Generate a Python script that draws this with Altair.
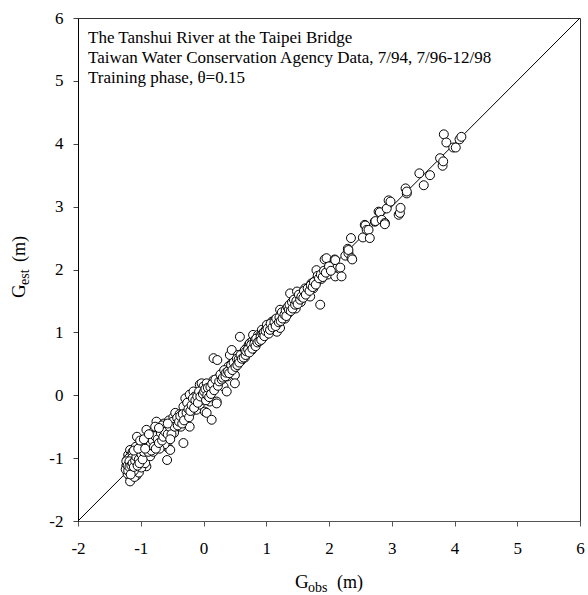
import altair as alt
import pandas as pd

# ---------------- data ----------------
# individually visible points
g_obs = [
    -1.22, -1.20, -1.18, -1.17, -1.17, -1.15, -1.14, -1.13, -1.12, -1.12,
    -1.10, -1.09, -1.08, -1.07, -1.06, -1.05, -1.04, -1.02, -1.01, -1.00,
    -0.98, -0.97, -0.96, -0.96, -0.94, -0.92, -0.91, -0.90, -1.20, -1.17,
    -1.22, -1.06, -1.15, -1.19, -1.23, -1.21, -1.16, -1.10, -1.03, -0.99,
    -0.93, -1.13, -1.08, -1.00, -1.24, -1.19, -1.14, -1.11,
    -0.91, -0.88, -0.85, -0.85, -0.82, -0.80, -0.78, -0.75, -0.74, -0.72,
    -0.70, -0.69, -0.67, -0.65, -0.63, -0.60, -0.59, -0.59, -0.58, -0.56,
    -0.55, -0.53, -0.52, -0.50, -0.48, -0.45, -0.44, -0.43, -0.40, -0.38,
    -0.36, -0.35, -0.32, -0.32, -0.30, -0.29, -0.28, -0.25, -0.22, -0.22,
    -0.22, -0.20, -0.18, -0.16, -0.16, -0.14, -0.12, -0.11, -0.11, -0.08,
    -0.06, -0.06, -0.06, -0.04, -0.03, -0.02, -0.32, -0.26, -0.62, -0.80,
    -0.70, -0.47, -0.66,
    0.00, 0.02, 0.02, 0.02, 0.05, 0.05, 0.08, 0.10, 0.10, 0.13,
    0.15, 0.16, 0.16, 0.18, 0.20, 0.21, 0.21, 0.21, 0.22, 0.24,
    0.26, 0.28, 0.30, 0.32, 0.32, 0.34, 0.37, 0.37, 0.38, 0.40,
    0.42, 0.43, 0.45, 0.45, 0.47, 0.50, 0.50, 0.50, 0.52, 0.55,
    0.55, 0.58, 0.58, 0.60, 0.62, 0.63, 0.65, 0.66, 0.69, 0.70,
    0.72, 0.74, 0.75, 0.77, 0.78, 0.79, 0.80, 0.82, 0.85, 0.87,
    0.88, 0.90, 0.93, 0.95, 0.98, 1.00,
    1.01, 1.03, 1.05, 1.08, 1.09, 1.11, 1.12, 1.14, 1.17, 1.18,
    1.19, 1.22, 1.22, 1.24, 1.27, 1.28, 1.30, 1.33, 1.35, 1.38,
    1.40, 1.43, 1.45, 1.47, 1.49, 1.51, 1.53, 1.55, 1.58, 1.62,
    1.65, 1.68, 1.70, 1.72, 1.75, 1.78, 1.80, 1.83, 1.85, 1.86,
    1.88, 1.93, 1.96, 1.96, 1.98, 2.07,
    2.09, 2.10, 2.10, 2.18, 2.20, 2.26, 2.30, 2.31, 2.31, 2.35,
    2.36, 2.37, 2.54, 2.57, 2.58, 2.60, 2.63, 2.65, 2.73, 2.74,
    2.79, 2.81, 2.84, 2.89, 2.89, 2.92, 2.95, 2.98, 3.11, 3.13,
    3.14, 3.22, 3.24, 3.24, 3.44, 3.51, 3.61, 3.77, 3.81, 3.82,
    3.83, 3.87, 3.98, 4.02, 4.08, 4.11,
]
g_est = [
    -1.08, -1.15, -1.22, -1.30, -1.37, -1.05, -1.12, -1.20, -1.25, -0.98,
    -1.02, -1.16, -1.10, -1.28, -0.92, -1.05, -1.18, -0.95, -1.11, -1.00,
    -1.06, -0.88, -0.97, -0.76, -1.02, -0.92, -1.13, -0.84, -0.95, -0.87,
    -1.03, -0.66, -0.95, -1.00, -1.12, -1.25, -1.18, -1.30, -1.23, -1.15,
    -1.08, -0.90, -0.82, -0.80, -1.18, -1.10, -1.00, -1.20,
    -0.55, -0.72, -0.82, -0.97, -0.60, -0.66, -0.75, -0.42, -0.55, -0.60,
    -0.68, -0.79, -0.50, -0.62, -0.45, -0.70, -0.52, -0.71, -1.03, -0.84,
    -0.40, -0.87, -0.55, -0.48, -0.35, -0.28, -0.52, -0.44, -0.40, -0.30,
    -0.50, -0.38, -0.28, -0.76, -0.35, -0.05, -0.22, -0.30, -0.20, -0.50,
    0.01, -0.12, -0.25, -0.10, 0.06, -0.02, -0.15, -0.18, -0.23, -0.05,
    -0.15, 0.01, 0.17, -0.08, 0.19, 0.05, -0.18, -0.12, -0.78, -0.90,
    -0.85, -0.60, -0.48,
    0.14, -0.05, -0.02, -0.26, 0.19, -0.28, 0.03, 0.06, -0.10, -0.39,
    0.10, 0.24, 0.59, 0.14, 0.20, -0.10, 0.17, -0.13, 0.56, 0.27,
    0.30, 0.22, 0.35, 0.32, 0.14, 0.38, 0.40, 0.06, 0.30, 0.46,
    0.64, 0.42, 0.72, 0.50, 0.44, 0.51, 0.32, 0.19, 0.55, 0.64,
    0.50, 0.93, 0.60, 0.55, 0.62, 0.67, 0.70, 0.60, 0.75, 0.68,
    0.80, 0.83, 0.72, 0.72, 0.86, 0.96, 0.78, 0.88, 0.85, 0.96,
    0.90, 0.95, 1.04, 0.92, 0.99, 1.05,
    1.12, 1.00, 1.08, 1.12, 1.17, 1.12, 1.05, 1.20, 1.01, 1.15,
    1.23, 1.07, 1.36, 1.25, 1.25, 1.30, 1.22, 1.38, 1.30, 1.62,
    1.42, 1.44, 1.50, 1.38, 1.65, 1.52, 1.58, 1.48, 1.62, 1.70,
    1.62, 1.72, 1.57, 1.78, 1.70, 1.82, 1.99, 1.83, 1.90, 1.44,
    1.85, 2.16, 2.18, 1.99, 1.92, 2.02,
    2.16, 2.15, 1.89, 2.03, 1.89, 2.22, 2.33, 2.26, 2.31, 2.50,
    2.18, 2.16, 2.51, 2.71, 2.70, 2.63, 2.63, 2.50, 2.76, 2.77,
    2.92, 2.91, 2.79, 2.74, 2.72, 2.97, 3.10, 3.08, 2.87, 2.90,
    2.98, 3.29, 3.21, 3.24, 3.53, 3.34, 3.50, 3.77, 3.65, 3.72,
    4.15, 4.02, 3.94, 3.94, 4.07, 4.11,
]
# points hidden inside the dense band
band_obs = [
    -1.23, -1.21, -1.20, -1.18, -1.18, -1.16, -1.15, -1.13, -1.11, -1.09,
    -1.07, -1.05, -1.03, -1.02, -0.99, -0.97, -0.95, -1.11, -1.04, -1.01,
    -0.88, -0.86, -0.84, -0.83, -0.81, -0.79, -0.77, -0.76, -0.73, -0.71,
    -0.68, -0.66, -0.64, -0.61, -0.57, -0.54, -0.51, -0.49, -0.46, -0.42,
    -0.41, -0.39, -0.37, -0.34, -0.33, -0.31, -0.27, -0.24, -0.23, -0.21,
    -0.19, -0.17, -0.15, -0.13, -0.10, -0.09, -0.07, -0.05, -0.01, -0.95,
    -0.93, -0.87, -0.77, -0.71, -0.57, -0.53,
    0.01, 0.03, 0.04, 0.06, 0.07, 0.09, 0.11, 0.12, 0.14, 0.17,
    0.19, 0.23, 0.25, 0.27, 0.29, 0.31, 0.33, 0.35, 0.36, 0.39,
    0.41, 0.44, 0.46, 0.48, 0.51, 0.53, 0.54, 0.56, 0.57, 0.59,
    0.61, 0.64, 0.66, 0.67, 0.68, 0.71, 0.73, 0.76, 0.78, 0.81,
    0.83, 0.84, 0.86, 0.89, 0.91, 0.92, 0.94, 0.96, 0.97, 0.99,
    1.02, 1.04, 1.06, 1.07, 1.10, 1.13, 1.15, 1.16, 1.20, 1.21,
    1.23, 1.25, 1.26, 1.29, 1.31, 1.32, 1.34, 1.36, 1.37, 1.39,
    1.41, 1.42, 1.44, 1.46, 1.48, 1.50, 1.52, 1.54, 1.56, 1.59,
    1.60, 1.63, 1.66, 1.69, 1.71, 1.74, 1.76, 1.79, 1.82, 1.84,
    1.87, 1.90, 1.92, 1.95, 2.00, 2.03,
]
band_est = [
    -1.05, -1.12, -1.20, -1.05, -1.14, -1.26, -1.12, -1.08, -1.14, -1.04,
    -0.98, -1.12, -1.02, -1.08, -0.94, -1.02, -0.90, -0.88, -0.85, -0.72,
    -0.90, -0.70, -0.78, -0.88, -0.72, -0.82, -0.65, -0.85, -0.70, -0.76,
    -0.60, -0.72, -0.66, -0.58, -0.62, -0.50, -0.62, -0.42, -0.50, -0.36,
    -0.48, -0.42, -0.33, -0.45, -0.30, -0.40, -0.28, -0.22, -0.35, -0.25,
    -0.16, -0.05, -0.20, -0.08, -0.02, -0.12, 0.06, -0.02, 0.02, -0.70,
    -0.85, -0.62, -0.50, -0.52, -0.45, -0.70,
    0.06, 0.10, -0.08, 0.00, 0.12, -0.03, 0.13, 0.02, 0.18, 0.08,
    0.25, 0.15, 0.22, 0.33, 0.25, 0.28, 0.40, 0.30, 0.36, 0.38,
    0.35, 0.48, 0.40, 0.52, 0.45, 0.58, 0.48, 0.57, 0.52, 0.64,
    0.58, 0.60, 0.72, 0.64, 0.70, 0.73, 0.68, 0.80, 0.74, 0.82,
    0.78, 0.90, 0.84, 0.86, 0.93, 0.88, 0.98, 1.00, 0.94, 1.02,
    1.06, 0.98, 1.04, 1.14, 1.08, 1.16, 1.10, 1.22, 1.16, 1.24,
    1.18, 1.32, 1.22, 1.28, 1.35, 1.26, 1.40, 1.36, 1.44, 1.34,
    1.48, 1.38, 1.52, 1.44, 1.50, 1.45, 1.60, 1.52, 1.57, 1.55,
    1.66, 1.60, 1.70, 1.66, 1.75, 1.72, 1.80, 1.76, 1.90, 1.86,
    1.92, 1.88, 1.98, 1.95, 2.05, 1.98,
]
diag = [-2, 6]
axis_ticks = [-2, -1, 0, 1, 2, 3, 4, 5, 6]
notes = [
    "The Tanshui River at the Taipei Bridge",
    "Taiwan Water Conservation Agency Data, 7/94, 7/96-12/98",
    "Training phase, \u03b8=0.15",
]

FONT = "Liberation Serif"
W, H = 502, 503

df = pd.DataFrame({"obs": g_obs + band_obs, "est": g_est + band_est})
line_df = pd.DataFrame({"obs": diag, "est": diag})

xs = alt.Scale(domain=[-2, 6], nice=False, zero=False)
ys = alt.Scale(domain=[-2, 6], nice=False, zero=False)

x_axis = alt.Axis(values=axis_ticks, title=None, grid=False, tickSize=5,
                  labelPadding=14, labelFont=FONT, labelFontSize=17,
                  labelColor="black", domainColor="#555", tickColor="#555",
                  labelExpr="'' + datum.value", labelOverlap=False, labelFlush=False)
y_axis = alt.Axis(values=axis_ticks, title=None, grid=False, tickSize=5,
                  labelPadding=10, labelFont=FONT, labelFontSize=17,
                  labelColor="black", domainColor="black", tickColor="#444",
                  labelExpr="'' + datum.value", labelOverlap=False, labelFlush=False)

line = alt.Chart(line_df).mark_line(color="black", strokeWidth=1).encode(
    x=alt.X("obs:Q", scale=xs, axis=x_axis),
    y=alt.Y("est:Q", scale=ys, axis=y_axis),
)

pts = alt.Chart(df).mark_circle(color="white", stroke="black", strokeWidth=1,
                                size=80, opacity=1).encode(
    x=alt.X("obs:Q", scale=xs),
    y=alt.Y("est:Q", scale=ys),
)


def txt(s, x, y, size, angle=0):
    kw = dict(font=FONT, fontSize=size, align="left", baseline="alphabetic",
              color="black")
    if angle:
        kw["angle"] = angle
    return alt.Chart(alt.Data(values=[{}])).mark_text(**kw).encode(
        x=alt.value(x), y=alt.value(y), text=alt.value(s))


layers = [line, pts]
for i, s in enumerate(notes):
    layers.append(txt(s, 10, 25 + 20 * i, 17))

# x-axis title  G_obs (m)
layers.append(txt("G", 217, 570, 19))
layers.append(txt("obs", 230, 574, 14))
layers.append(txt("(m)", 259, 570, 18))
# y-axis title  G_est (m)  (rotated)
layers.append(txt("G", -53, 280, 19, 270))
layers.append(txt("est", -49, 267, 14, 270))
layers.append(txt("(m)", -53, 244, 18, 270))

chart = alt.layer(*layers).properties(
    width=W, height=H,
    autosize=alt.AutoSizeParams(type="none"),
    padding={"left": 78, "top": 18, "right": 8, "bottom": 74},
).configure_view(stroke="#333", strokeWidth=1)

chart.save("out.html", embed_options={"renderer": "svg", "actions": False})
